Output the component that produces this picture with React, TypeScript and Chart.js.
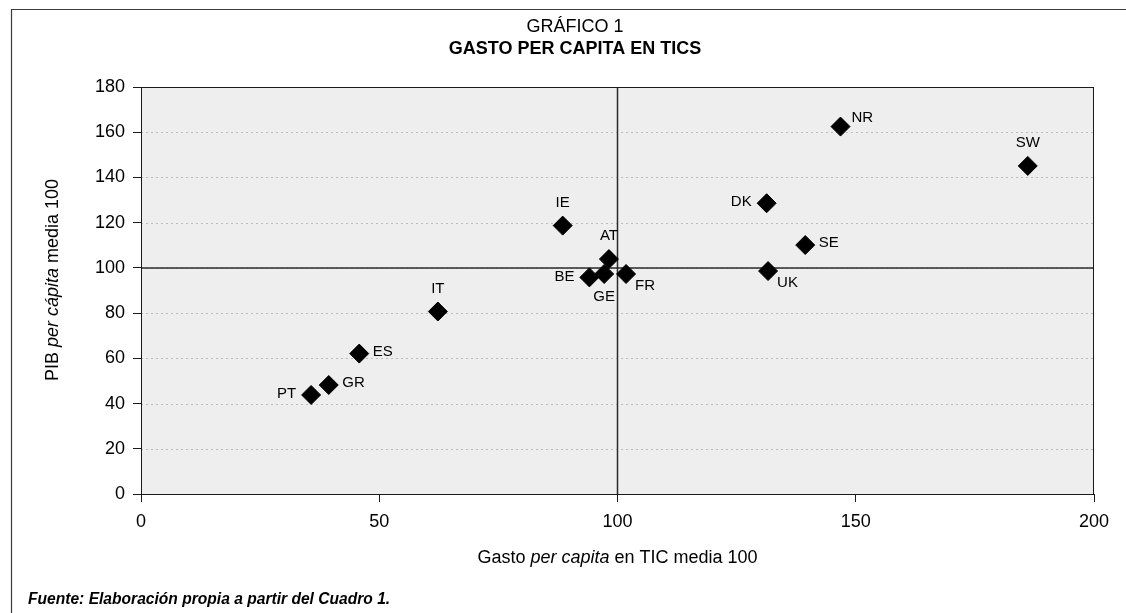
import React, { useEffect, useRef } from 'react';
import { Chart, registerables } from 'chart.js';

Chart.register(...registerables);

// ---- Data ----
const countries = ['PT', 'GR', 'ES', 'IT', 'IE', 'AT', 'BE', 'GE', 'FR', 'DK', 'SE', 'UK', 'NR', 'SW'];
const gastoTicPerCapita = [35.7, 39.4, 45.8, 62.3, 88.5, 98.2, 94.1, 97.2, 101.8, 131.3, 139.4, 131.6, 146.8, 186.1];
const pibPerCapita = [43.8, 48.2, 62.1, 80.7, 118.7, 103.9, 95.8, 97.3, 97.3, 128.6, 110.1, 98.6, 162.5, 145.1];
const labelPlacement = ['left', 'right', 'right', 'above', 'above', 'above', 'left', 'below', 'belowRight', 'left', 'right', 'belowRight', 'aboveRight', 'above'];

const xTickStep = 50;
const yTickStep = 20;
const xRange = [0, 200];
const yRange = [0, 180];
const referenceX = 100;
const referenceY = 100;

const titleLine1 = 'GRÁFICO 1';
const titleLine2 = 'GASTO PER CAPITA EN TICS';
const xTitleRuns: [string, boolean][] = [['Gasto ', false], ['per capita', true], [' en TIC media 100', false]];
const yTitleRuns: [string, boolean][] = [['PIB ', false], ['per cápita', true], [' media 100', false]];
const sourceNote = 'Fuente: Elaboración propia a partir del Cuadro 1.';

const FONT = '"Liberation Sans", Arial, Helvetica, sans-serif';

function drawRuns(ctx: CanvasRenderingContext2D, runs: [string, boolean][], cx: number, cy: number, size: number) {
  let total = 0;
  const widths = runs.map(([t, it]) => {
    ctx.font = `${it ? 'italic ' : ''}${size}px ${FONT}`;
    const w = ctx.measureText(t).width;
    total += w;
    return w;
  });
  let x = cx - total / 2;
  ctx.textAlign = 'left';
  ctx.textBaseline = 'middle';
  runs.forEach(([t, it], i) => {
    ctx.font = `${it ? 'italic ' : ''}${size}px ${FONT}`;
    ctx.fillText(t, x, cy);
    x += widths[i];
  });
}

export default function App() {
  const ref = useRef<HTMLCanvasElement>(null);

  useEffect(() => {
    const canvas = ref.current!;

    const decor = {
      id: 'decor',
      beforeDraw(chart: any) {
        const { ctx, chartArea: a } = chart;
        ctx.save();
        ctx.fillStyle = '#ffffff';
        ctx.fillRect(0, 0, chart.width, chart.height);
        // outer frame
        ctx.strokeStyle = '#3a3a3a';
        ctx.lineWidth = 1.2;
        ctx.beginPath();
        ctx.moveTo(11.5, chart.height);
        ctx.lineTo(11.5, 9.5);
        ctx.lineTo(chart.width, 9.5);
        ctx.stroke();
        // plot background
        ctx.fillStyle = '#eeeeee';
        ctx.fillRect(a.left, a.top, a.right - a.left, a.bottom - a.top);
        ctx.restore();
      },
      beforeDatasetsDraw(chart: any) {
        const { ctx, chartArea: a, scales } = chart;
        const ys = scales.y;
        const xs = scales.x;
        ctx.save();
        // dotted horizontal gridlines
        ctx.strokeStyle = '#bdbdbd';
        ctx.lineWidth = 1;
        ctx.setLineDash([2, 3]);
        ys.ticks.forEach((t: any) => {
          if (t.value === yRange[0] || t.value === yRange[1]) return;
          const y = Math.round(ys.getPixelForValue(t.value)) + 0.5;
          ctx.beginPath();
          ctx.moveTo(a.left, y);
          ctx.lineTo(a.right, y);
          ctx.stroke();
        });
        ctx.setLineDash([]);
        // reference lines
        ctx.strokeStyle = '#2b2b2b';
        ctx.lineWidth = 1.5;
        const ry = ys.getPixelForValue(referenceY);
        ctx.beginPath();
        ctx.moveTo(a.left, ry);
        ctx.lineTo(a.right, ry);
        ctx.stroke();
        const rx = xs.getPixelForValue(referenceX);
        ctx.beginPath();
        ctx.moveTo(rx, a.top);
        ctx.lineTo(rx, a.bottom);
        ctx.stroke();
        // plot border
        ctx.strokeStyle = '#1a1a1a';
        ctx.lineWidth = 1;
        ctx.strokeRect(Math.round(a.left) + 0.5, Math.round(a.top) + 0.5, Math.round(a.right - a.left) - 1, Math.round(a.bottom - a.top));
        ctx.restore();
      },
      afterDatasetsDraw(chart: any) {
        const { ctx } = chart;
        const meta = chart.getDatasetMeta(0);
        ctx.save();
        ctx.fillStyle = '#000';
        ctx.font = `15px ${FONT}`;
        meta.data.forEach((pt: any, i: number) => {
          const p = labelPlacement[i];
          let dx = 0, dy = 0;
          let align: CanvasTextAlign = 'center';
          if (p === 'left') { dx = -15; dy = -1; align = 'right'; }
          else if (p === 'right') { dx = 13.5; dy = -2; align = 'left'; }
          else if (p === 'above') { dy = -23; }
          else if (p === 'below') { dy = 23; }
          else if (p === 'belowRight') { dx = 9; dy = 11.5; align = 'left'; }
          else if (p === 'aboveRight') { dx = 11; dy = -9; align = 'left'; }
          ctx.textAlign = align;
          ctx.textBaseline = 'middle';
          ctx.fillText(countries[i], pt.x + dx, pt.y + dy);
        });
        ctx.restore();
      },
      afterDraw(chart: any) {
        const { ctx, chartArea: a } = chart;
        ctx.save();
        ctx.fillStyle = '#000';
        ctx.textAlign = 'center';
        ctx.textBaseline = 'middle';
        ctx.font = `18px ${FONT}`;
        ctx.fillText(titleLine1, 575, 27.5);
        ctx.font = `bold 18px ${FONT}`;
        ctx.fillText(titleLine2, 575, 49.5);
        // x axis title
        drawRuns(ctx, xTitleRuns, (a.left + a.right) / 2, 558, 18);
        // y axis title
        ctx.save();
        ctx.translate(53, 280);
        ctx.rotate(-Math.PI / 2);
        drawRuns(ctx, yTitleRuns, 0, 0, 18);
        ctx.restore();
        // source
        ctx.font = `italic bold 15.6px ${FONT}`;
        ctx.textAlign = 'left';
        ctx.textBaseline = 'middle';
        ctx.fillText(sourceNote, 28, 600);
        ctx.restore();
      },
    };

    const chart = new Chart(canvas, {
      type: 'scatter',
      data: {
        datasets: [
          {
            label: 'Países',
            data: countries.map((_, i) => ({ x: gastoTicPerCapita[i], y: pibPerCapita[i] })),
            pointStyle: 'rectRot',
            pointRadius: 9.5,
            pointHoverRadius: 9.5,
            backgroundColor: '#000',
            borderColor: '#000',
            borderWidth: 1,
          },
        ],
      },
      options: {
        animation: false,
        responsive: false,
        devicePixelRatio: 1,
        layout: { padding: { top: 87, right: 32, left: 0, bottom: 0 } },
        plugins: { legend: { display: false }, tooltip: { enabled: false }, title: { display: false } },
        scales: {
          x: {
            type: 'linear',
            min: xRange[0],
            max: xRange[1],
            afterFit: (s: any) => { s.height = 119; },
            ticks: { stepSize: xTickStep, color: '#000', font: { family: FONT, size: 18 }, padding: 9, maxRotation: 0 },
            grid: { drawOnChartArea: false, drawTicks: true, tickLength: 8, tickColor: '#1a1a1a', tickWidth: 1 },
            border: { display: false },
          },
          y: {
            type: 'linear',
            min: yRange[0],
            max: yRange[1],
            afterFit: (s: any) => { s.width = 141; },
            ticks: { stepSize: yTickStep, color: '#000', font: { family: FONT, size: 18 }, padding: 8 },
            grid: { drawOnChartArea: false, drawTicks: true, tickLength: 8, tickColor: '#1a1a1a', tickWidth: 1 },
            border: { display: false },
          },
        },
      },
      plugins: [decor],
    } as any);

    return () => chart.destroy();
  }, []);

  return (
    <div style={{ position: 'absolute', left: 0, top: 0, width: 1126, height: 613 }}>
      <canvas ref={ref} width={1126} height={613} style={{ display: 'block', width: 1126, height: 613 }} />
    </div>
  );
}
